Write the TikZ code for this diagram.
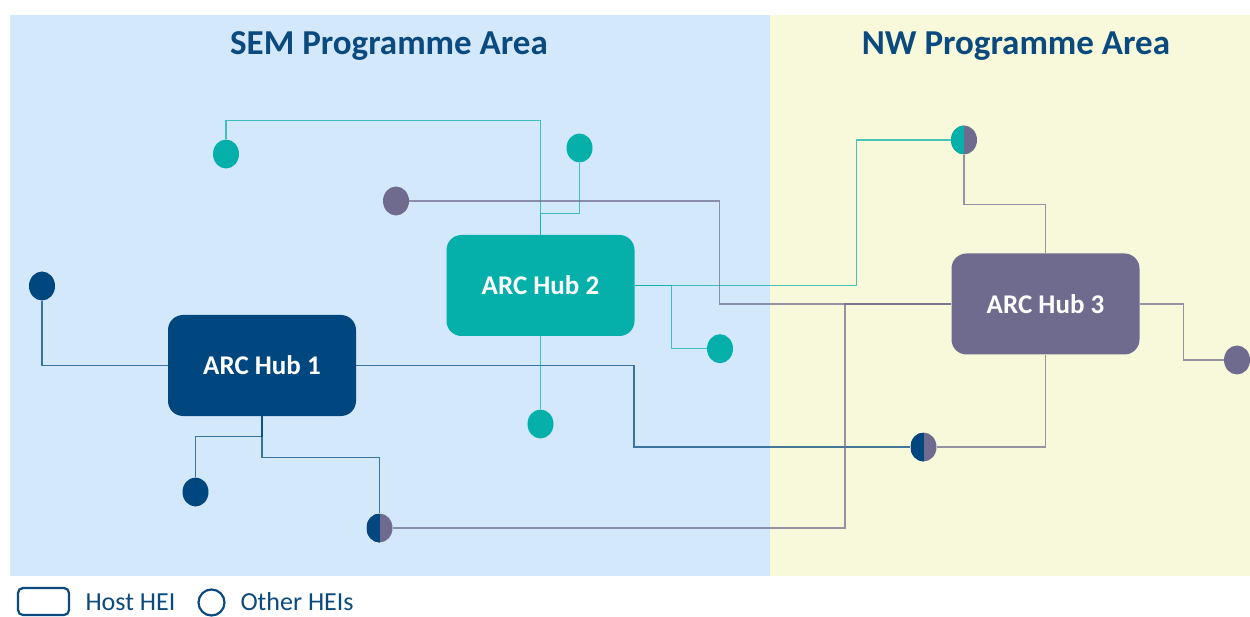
\documentclass[tikz,border=0pt]{standalone}
\usepackage{fontspec}
\setmainfont{Carlito}
\usetikzlibrary{shapes.geometric}
\definecolor{sembg}{HTML}{D4E8FB}
\definecolor{nwbg}{HTML}{F8F9DB}
\definecolor{hubA}{HTML}{00467F}
\definecolor{hubB}{HTML}{04B0A9}
\definecolor{hubC}{HTML}{6F6B8E}
\definecolor{titlec}{HTML}{0B4A7E}
\pgfdeclarelayer{bg}
\pgfdeclarelayer{lines}
\pgfsetlayers{bg,lines,main}
\begin{document}
\begin{tikzpicture}[x=1pt,y=-1pt,
  hub/.style={rounded corners=15pt, minimum width=188pt, minimum height=101pt, inner sep=0pt, text=white, font=\fontsize{27}{31}\selectfont\bfseries},
  hei/.style={ellipse, minimum width=26pt, minimum height=29pt, inner sep=0pt},
  split/.style 2 args={hei, fill=#2, path picture={\fill[#1] (path picture bounding box.north west) rectangle (path picture bounding box.south);}},
  link/.style={line width=1.3pt, opacity=0.72},
  title/.style={text=titlec, font=\fontsize{35}{40}\selectfont\bfseries, anchor=base},
  legtext/.style={text=titlec, font=\fontsize{26}{30}\selectfont, anchor=base west},
]
\useasboundingbox (0,0) rectangle (1250,617);
\begin{pgfonlayer}{bg}
  \fill[sembg] (10,15) rectangle (770,576);
  \fill[nwbg] (770,15) rectangle (1250,576);
\end{pgfonlayer}

\node[title] (semt) at (389,55) {SEM Programme Area};
\node[title] (nwt) at (1016,55) {NW Programme Area};

% hubs
\node[hub, fill=hubA] (h1) at (262,365.5) {ARC Hub 1};
\node[hub, fill=hubB] (h2) at (540.5,285.5) {ARC Hub 2};
\node[hub, fill=hubC] (h3) at (1045.5,304) {ARC Hub 3};

% other HEIs
\node[hei, fill=hubA] (c1) at (42,286) {};
\node[hei, fill=hubA] (c2) at (195.5,492) {};
\node[hei, fill=hubB] (t1) at (226,154) {};
\node[hei, fill=hubB] (t2) at (579.5,148) {};
\node[hei, fill=hubB] (t3) at (720,348.7) {};
\node[hei, fill=hubB] (t4) at (540.5,424) {};
\node[hei, fill=hubC] (p1) at (396,201) {};
\node[hei, fill=hubC] (p2) at (1237,360) {};
\node[split={hubA}{hubC}] (s1) at (379.5,528) {};
\node[split={hubA}{hubC}] (s2) at (923.5,447) {};
\node[split={hubB}{hubC}] (s3) at (964,140) {};

\begin{pgfonlayer}{lines}
  % hub 1
  \draw[link, hubA] (h1.west) -| (c1);
  \draw[link, hubA] (h1.south) -- ++(0,20) -| (c2);
  \draw[link, hubA] (h1.south) -- ++(0,41.5) -| (s1);
  \draw[link, hubA] (h1.east) -- ++(277.7,0) |- (s2);
  % hub 2
  \draw[link, hubB] (h2.north) -- ++(0,-114) -| (t1);
  \draw[link, hubB] (t2.south) -- ++(0,50.5) -| (h2.north);
  \draw[link, hubB] (h2.east) -- ++(37,0) |- (t3);
  \draw[link, hubB] (h2) -- (t4);
  \draw[link, hubB] (h2.east) -- ++(221.7,0) |- (s3);
  % hub 3
  \draw[link, hubC] (p1) -- ++(323.7,0) |- (h3.west);
  \draw[link, hubC] (s1) -- ++(465.5,0) |- (h3.west);
  \draw[link, hubC] (h3.north) -- ++(0,-49) -| (s3);
  \draw[link, hubC] (h3.east) -- ++(44,0) |- (p2);
  \draw[link, hubC] (h3.south) |- (s2);
\end{pgfonlayer}

% legend
\node[draw=titlec, line width=2.2pt, rounded corners=5pt, minimum width=51pt, minimum height=27pt, inner sep=0pt] (leghost) at (43.5,601.5) {};
\node[legtext] (leghostt) at (82,610) {Host HEI};
\node[draw=titlec, line width=2.2pt, ellipse, minimum width=26pt, minimum height=26pt, inner sep=0pt] (legother) at (211.5,602.5) {};
\node[legtext] (legothert) at (237,610) {Other HEIs};
\end{tikzpicture}
\end{document}
